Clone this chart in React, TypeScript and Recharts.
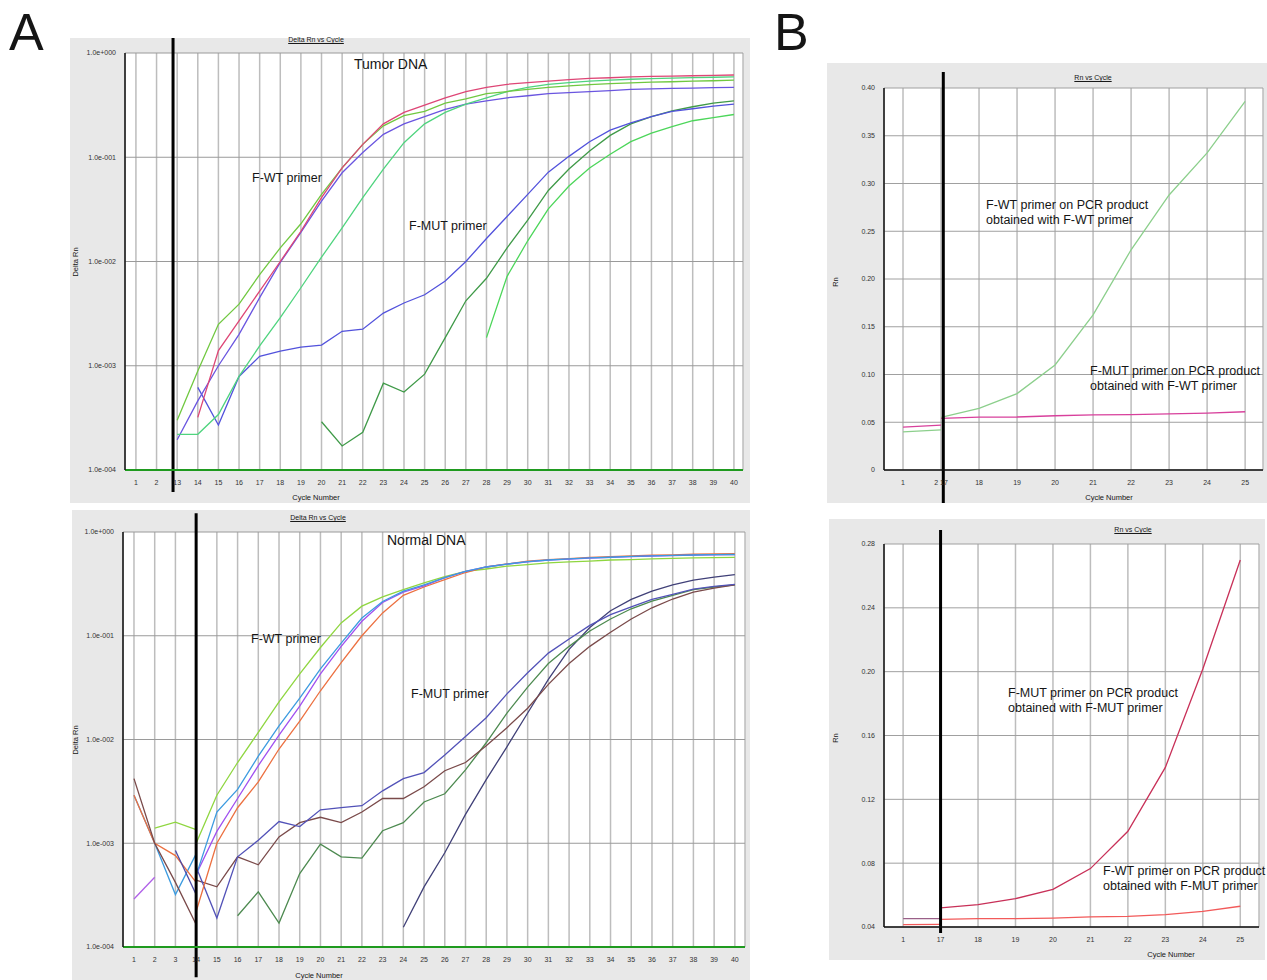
import { CartesianGrid, Line, LineChart, ReferenceLine, XAxis, YAxis } from 'recharts'

const FONT = '"Liberation Sans", Arial, sans-serif'

// ---- Panel A, tumor DNA (Delta Rn, log scale) ----
const tumorCycles = ['1', '2', '13', '14', '15', '16', '17', '18', '19', '20', '21', '22', '23', '24', '25', '26', '27', '28', '29', '30', '31', '32', '33', '34', '35', '36', '37', '38', '39', '40']

const tumorWtRed = [null, null, null, 3.2e-4, 1.4e-3, 2.7e-3, 5.2e-3, 1.0e-2, 1.95e-2, 4.1e-2, 7.9e-2, 0.133, 0.209, 0.269, 0.316, 0.372, 0.427, 0.468, 0.501, 0.519, 0.537, 0.555, 0.57, 0.579, 0.589, 0.597, 0.601, 0.605, 0.61, 0.615]
const tumorWtYellow = [null, null, 3.0e-4, 8.9e-4, 2.5e-3, 3.9e-3, 7.5e-3, 1.35e-2, 2.3e-2, 4.4e-2, 7.9e-2, 0.133, 0.2, 0.251, 0.275, 0.331, 0.363, 0.407, 0.427, 0.447, 0.468, 0.484, 0.498, 0.509, 0.518, 0.525, 0.53, 0.537, 0.542, 0.55]
const tumorWtMint = [null, null, 2.2e-4, 2.2e-4, 3.4e-4, 7.9e-4, 1.55e-3, 2.9e-3, 5.6e-3, 1.1e-2, 2.1e-2, 4.1e-2, 7.7e-2, 0.138, 0.209, 0.269, 0.324, 0.372, 0.427, 0.468, 0.5, 0.519, 0.537, 0.55, 0.56, 0.569, 0.575, 0.58, 0.585, 0.589]
const tumorWtBlue = [null, null, 1.95e-4, 4.6e-4, 1.0e-3, 2.0e-3, 4.5e-3, 9.8e-3, 1.9e-2, 3.8e-2, 7.1e-2, 0.111, 0.166, 0.209, 0.245, 0.288, 0.324, 0.347, 0.372, 0.389, 0.407, 0.417, 0.427, 0.436, 0.447, 0.452, 0.457, 0.461, 0.465, 0.468]
const tumorMutBlue = [null, null, null, 6.2e-4, 2.7e-4, 7.9e-4, 1.23e-3, 1.38e-3, 1.51e-3, 1.58e-3, 2.14e-3, 2.24e-3, 3.2e-3, 4.0e-3, 4.8e-3, 6.5e-3, 1.0e-2, 1.66e-2, 2.7e-2, 4.4e-2, 7.2e-2, 0.102, 0.141, 0.182, 0.214, 0.245, 0.275, 0.292, 0.309, 0.324]
const tumorMutDark = [null, null, null, null, null, null, null, null, null, 2.9e-4, 1.7e-4, 2.3e-4, 6.8e-4, 5.6e-4, 8.3e-4, 1.86e-3, 4.2e-3, 6.9e-3, 1.35e-2, 2.5e-2, 4.8e-2, 7.7e-2, 0.115, 0.162, 0.209, 0.245, 0.279, 0.305, 0.331, 0.347]
const tumorMutLight = [null, null, null, null, null, null, null, null, null, null, null, null, null, null, null, null, null, 1.86e-3, 7.2e-3, 1.58e-2, 3.2e-2, 5.3e-2, 7.9e-2, 0.107, 0.141, 0.17, 0.197, 0.224, 0.24, 0.257]

// ---- Panel A, normal DNA ----
const normalCycles = ['1', '2', '3', '14', '15', '16', '17', '18', '19', '20', '21', '22', '23', '24', '25', '26', '27', '28', '29', '30', '31', '32', '33', '34', '35', '36', '37', '38', '39', '40']

// baseline traces before the break line
const normalYellowPre = [null, 1.4e-3, 1.6e-3, 1.35e-3]
const normalSkyPre = [2.9e-3, 1.0e-3, 3.2e-4, 7.9e-4]
const normalBrownPre = [4.2e-3, 1.0e-3, 4.2e-4, 1.65e-4]
const normalOrangePre = [2.9e-3, 1.0e-3, 7.6e-4, 4.2e-4]
const normalVioletPre = [2.9e-4, 4.7e-4]
const normalSlatePre = [null, null, 8.5e-4, 3.2e-4]

const normalWtYellow = [null, null, null, 1.0e-3, 2.9e-3, 6.0e-3, 1.17e-2, 2.3e-2, 4.3e-2, 7.7e-2, 0.133, 0.193, 0.237, 0.279, 0.324, 0.372, 0.417, 0.44, 0.468, 0.485, 0.504, 0.515, 0.525, 0.537, 0.542, 0.55, 0.558, 0.562, 0.566, 0.57]
const normalWtSky = [null, null, null, 4.9e-4, 2.0e-3, 3.3e-3, 6.9e-3, 1.35e-2, 2.5e-2, 4.8e-2, 8.5e-2, 0.148, 0.214, 0.269, 0.309, 0.363, 0.417, 0.46, 0.49, 0.519, 0.537, 0.55, 0.562, 0.571, 0.582, 0.589, 0.594, 0.6, 0.604, 0.607]
const normalWtViolet = [null, null, null, 5.0e-4, 1.3e-3, 2.7e-3, 5.6e-3, 1.1e-2, 2.1e-2, 4.3e-2, 7.9e-2, 0.138, 0.209, 0.263, 0.302, 0.363, 0.417, 0.46, 0.49, 0.516, 0.535, 0.548, 0.56, 0.57, 0.58, 0.587, 0.592, 0.598, 0.602, 0.605]
const normalWtOrange = [null, null, null, 2.2e-4, 1.0e-3, 2.2e-3, 3.9e-3, 8.1e-3, 1.5e-2, 2.95e-2, 5.5e-2, 0.1, 0.166, 0.245, 0.295, 0.347, 0.407, 0.46, 0.492, 0.525, 0.542, 0.555, 0.57, 0.579, 0.589, 0.597, 0.601, 0.61, 0.616, 0.62]
const normalMutSlate = [null, null, null, 5.9e-4, 1.9e-4, 7.4e-4, 1.07e-3, 1.62e-3, 1.45e-3, 2.1e-3, 2.2e-3, 2.3e-3, 3.2e-3, 4.2e-3, 4.8e-3, 7.1e-3, 1.07e-2, 1.62e-2, 2.75e-2, 4.4e-2, 6.8e-2, 9.3e-2, 0.126, 0.16, 0.19, 0.224, 0.251, 0.282, 0.299, 0.313]
const normalMutBrown = [null, null, null, 4.4e-4, 3.8e-4, 7.4e-4, 6.2e-4, 1.15e-3, 1.58e-3, 1.78e-3, 1.58e-3, 2.0e-3, 2.7e-3, 2.7e-3, 3.5e-3, 5.0e-3, 6.0e-3, 8.7e-3, 1.3e-2, 2.0e-2, 3.4e-2, 5.4e-2, 7.9e-2, 0.108, 0.145, 0.186, 0.226, 0.263, 0.288, 0.309]
const normalMutGreen = [null, null, null, null, null, 2.0e-4, 3.4e-4, 1.7e-4, 5.1e-4, 9.8e-4, 7.4e-4, 7.2e-4, 1.32e-3, 1.58e-3, 2.5e-3, 3.0e-3, 5.1e-3, 9.3e-3, 1.8e-2, 3.2e-2, 5.4e-2, 7.9e-2, 0.111, 0.145, 0.182, 0.216, 0.245, 0.279, 0.295, 0.309]
const normalMutNavy = [null, null, null, null, null, null, null, null, null, null, null, null, null, 1.55e-4, 3.8e-4, 8.1e-4, 1.9e-3, 4.1e-3, 8.5e-3, 1.8e-2, 3.8e-2, 7.4e-2, 0.12, 0.174, 0.224, 0.269, 0.309, 0.343, 0.367, 0.389]

// ---- Panel B, Rn on PCR product from F-WT primer ----
const wtProductCycles = ['1', '2 17', '18', '19', '20', '21', '22', '23', '24', '25']
const wtProductGreenPre = [0.04, 0.042]
const wtProductPinkPre = [0.045, 0.047]
const wtProductGreen = [null, 0.055, 0.0646, 0.08, 0.11, 0.1625, 0.2306, 0.288, 0.332, 0.386]
const wtProductPink = [null, 0.054, 0.0553, 0.0555, 0.0568, 0.0578, 0.058, 0.0588, 0.0595, 0.061]

// ---- Panel B, Rn on PCR product from F-MUT primer ----
const mutProductCycles = ['1', '17', '18', '19', '20', '21', '22', '23', '24', '25']
const mutProductMutPre = [0.0452, 0.0452]
const mutProductWtPre = [0.0415, 0.0417]
const mutProductMut = [null, 0.052, 0.054, 0.0578, 0.0636, 0.0766, 0.1, 0.14, 0.2017, 0.27]
const mutProductWt = [null, 0.0448, 0.0452, 0.0452, 0.0456, 0.0463, 0.0467, 0.0477, 0.0498, 0.053]

const decades = [1e-4, 1e-3, 1e-2, 1e-1, 1]
const rnTicksWt = [0, 0.05, 0.1, 0.15, 0.2, 0.25, 0.3, 0.35, 0.4]
const rnTicksMut = [0.04, 0.08, 0.12, 0.16, 0.2, 0.24, 0.28]

type Series = { key: string; values: (number | null)[]; color: string; width?: number }

function buildRows(cycles: string[], series: Series[]) {
  return cycles.map((cycle, pos) => {
    const row: Record<string, number | string | null> = { pos, cycle }
    series.forEach((s) => {
      row[s.key] = s.values[pos] ?? null
    })
    return row
  })
}

const tumorSeries: Series[] = [
  { key: 'mutLight', values: tumorMutLight, color: '#4cd65a' },
  { key: 'mutDark', values: tumorMutDark, color: '#3f9a48' },
  { key: 'mutBlue', values: tumorMutBlue, color: '#5252dc' },
  { key: 'wtBlue', values: tumorWtBlue, color: '#6a55e0' },
  { key: 'wtMint', values: tumorWtMint, color: '#4fd47e' },
  { key: 'wtYellow', values: tumorWtYellow, color: '#70c840' },
  { key: 'wtRed', values: tumorWtRed, color: '#de4676' },
]

const normalSeries: Series[] = [
  { key: 'violetPre', values: normalVioletPre, color: '#b060e8' },
  { key: 'yellowPre', values: normalYellowPre, color: '#8fd640' },
  { key: 'skyPre', values: normalSkyPre, color: '#3c9be0' },
  { key: 'orangePre', values: normalOrangePre, color: '#ec7040' },
  { key: 'brownPre', values: normalBrownPre, color: '#7a4a4a' },
  { key: 'slatePre', values: normalSlatePre, color: '#4a4aa8' },
  { key: 'mutNavy', values: normalMutNavy, color: '#404078' },
  { key: 'mutGreen', values: normalMutGreen, color: '#4d8a50' },
  { key: 'mutBrown', values: normalMutBrown, color: '#7a4a4a' },
  { key: 'mutSlate', values: normalMutSlate, color: '#5252b8' },
  { key: 'wtYellow', values: normalWtYellow, color: '#8fd640' },
  { key: 'wtOrange', values: normalWtOrange, color: '#ec7040' },
  { key: 'wtViolet', values: normalWtViolet, color: '#a050f0' },
  { key: 'wtSky', values: normalWtSky, color: '#3c9be0' },
]

const wtProductSeries: Series[] = [
  { key: 'greenPre', values: wtProductGreenPre, color: '#8ccf8c' },
  { key: 'pinkPre', values: wtProductPinkPre, color: '#d8409c' },
  { key: 'green', values: wtProductGreen, color: '#8ccf8c' },
  { key: 'pink', values: wtProductPink, color: '#d8409c' },
]

const mutProductSeries: Series[] = [
  { key: 'wtPre', values: mutProductWtPre, color: '#f25a5a' },
  { key: 'mutPre', values: mutProductMutPre, color: '#9a6088' },
  { key: 'wt', values: mutProductWt, color: '#f25a5a' },
  { key: 'mut', values: mutProductMut, color: '#c83058' },
]

const sci = (v: number) => {
  const e = Math.round(Math.log10(v))
  return `1.0e${e < 0 ? '-' : '+'}${String(Math.abs(e)).padStart(3, '0')}`
}

const tickStyle = { fontSize: 7, fill: '#333', fontFamily: FONT }

type ChartProps = {
  cycles: string[]
  series: Series[]
  width: number
  height: number
  top: number
  right: number
  yWidth: number
  xDomain: [number, number]
  breakPos: number
  breakSpan: [number, number]
}

function DeltaRnChart({ cycles, series, width, height, top, right, yWidth, xDomain, breakPos, breakSpan }: ChartProps) {
  const rows = buildRows(cycles, series)
  return (
    <LineChart width={width} height={height} data={rows} margin={{ top, right, bottom: 0, left: 0 }}>
      <CartesianGrid horizontal={false} stroke="#bdbdbd" strokeWidth={1.5} fill="#fff" />
      <CartesianGrid vertical={false} stroke="#9a9a9a" />
      <XAxis
        type="number"
        dataKey="pos"
        domain={xDomain}
        allowDataOverflow
        ticks={cycles.map((_, i) => i)}
        interval={0}
        tickFormatter={(i: number) => cycles[i]}
        tick={tickStyle}
        tickLine={false}
        tickSize={6}
        tickMargin={4}
        height={33}
        axisLine={{ stroke: '#1f9a1f', strokeWidth: 2 }}
      />
      <XAxis xAxisId="frame" orientation="top" type="number" domain={xDomain} tick={false} tickLine={false} height={0} axisLine={{ stroke: '#8c8c8c', strokeWidth: 1.5 }} />
      <YAxis
        type="number"
        scale="log"
        domain={[1e-4, 1]}
        allowDataOverflow
        ticks={decades}
        interval={0}
        tickFormatter={sci}
        tick={tickStyle}
        tickLine={false}
        tickSize={6}
        tickMargin={3}
        width={yWidth}
        axisLine={{ stroke: '#111', strokeWidth: 1.5 }}
      />
      <YAxis yAxisId="frame" orientation="right" type="number" domain={[0, 1]} tick={false} tickLine={false} width={0} axisLine={{ stroke: '#8c8c8c', strokeWidth: 1.5 }} />
      {series.map((s) => (
        <Line key={s.key} type="linear" dataKey={s.key} stroke={s.color} strokeWidth={1.3} dot={false} isAnimationActive={false} />
      ))}
      <ReferenceLine
        segment={[{ x: breakPos, y: breakSpan[0] }, { x: breakPos, y: breakSpan[1] }]}
        stroke="#000"
        strokeWidth={3}
        ifOverflow="visible"
      />
    </LineChart>
  )
}

function RnChart({ cycles, series, width, height, top, right, yWidth, xDomain, breakPos, breakSpan, yDomain, yTicks }: ChartProps & { yDomain: [number, number]; yTicks: number[] }) {
  const rows = buildRows(cycles, series)
  return (
    <LineChart width={width} height={height} data={rows} margin={{ top, right, bottom: 0, left: 0 }}>
      <CartesianGrid horizontal={false} stroke="#bdbdbd" strokeWidth={1.5} fill="#fff" />
      <CartesianGrid vertical={false} stroke="#a0a0a0" />
      <XAxis
        type="number"
        dataKey="pos"
        domain={xDomain}
        allowDataOverflow
        ticks={cycles.map((_, i) => i)}
        interval={0}
        tickFormatter={(i: number) => cycles[i]}
        tick={tickStyle}
        tickLine={false}
        tickSize={6}
        tickMargin={4}
        height={33}
        axisLine={{ stroke: '#111', strokeWidth: 1.5 }}
      />
      <XAxis xAxisId="frame" orientation="top" type="number" domain={xDomain} tick={false} tickLine={false} height={0} axisLine={{ stroke: '#666', strokeWidth: 1.5 }} />
      <YAxis
        type="number"
        domain={yDomain}
        allowDataOverflow
        ticks={yTicks}
        interval={0}
        tickFormatter={(v: number) => (v === 0 ? '0' : v.toFixed(2))}
        tick={tickStyle}
        tickLine={false}
        tickSize={6}
        tickMargin={3}
        width={yWidth}
        axisLine={{ stroke: '#111', strokeWidth: 1.5 }}
      />
      <YAxis yAxisId="frame" orientation="right" type="number" domain={[0, 1]} tick={false} tickLine={false} width={0} axisLine={{ stroke: '#666', strokeWidth: 1.5 }} />
      {series.map((s) => (
        <Line key={s.key} type="linear" dataKey={s.key} stroke={s.color} strokeWidth={1.3} dot={false} isAnimationActive={false} />
      ))}
      <ReferenceLine
        segment={[{ x: breakPos, y: breakSpan[0] }, { x: breakPos, y: breakSpan[1] }]}
        stroke="#000"
        strokeWidth={3}
        ifOverflow="visible"
      />
    </LineChart>
  )
}

function Caption({ x, y, size = 12.5, middle = false, rotate = false, underline = false, children }: {
  x: number
  y: number
  size?: number
  middle?: boolean
  rotate?: boolean
  underline?: boolean
  children: React.ReactNode
}) {
  return (
    <div
      style={{
        position: 'absolute',
        left: x,
        top: y,
        transform: `translate(${middle ? '-50%' : '0'}, -50%)${rotate ? ' rotate(-90deg)' : ''}`,
        fontSize: size,
        lineHeight: size > 10 ? '15px' : 1.15,
        whiteSpace: 'nowrap',
        color: '#151515',
        textDecoration: underline ? 'underline' : 'none',
      }}
    >
      {children}
    </div>
  )
}

const panelBg = '#e8e8e8'

export default function App() {
  return (
    <div style={{ position: 'absolute', left: 0, top: 0, width: 1267, height: 980, background: '#fff', fontFamily: FONT, overflow: 'hidden' }}>
      <div style={{ position: 'absolute', left: 70, top: 38, width: 680, height: 465, background: panelBg }}>
        <DeltaRnChart
          cycles={tumorCycles}
          series={tumorSeries}
          width={680}
          height={465}
          top={15}
          right={7}
          yWidth={55}
          xDomain={[-0.53, 29.44]}
          breakPos={1.8}
          breakSpan={[1.42, 6.15e-5]}
        />
      </div>
      <div style={{ position: 'absolute', left: 72, top: 510, width: 678, height: 470, background: panelBg }}>
        <DeltaRnChart
          cycles={normalCycles}
          series={normalSeries}
          width={678}
          height={470}
          top={22}
          right={5}
          yWidth={51}
          xDomain={[-0.53, 29.49]}
          breakPos={3}
          breakSpan={[1.52, 5.1e-5]}
        />
      </div>
      <div style={{ position: 'absolute', left: 827, top: 63, width: 440, height: 440, background: panelBg }}>
        <RnChart
          cycles={wtProductCycles}
          series={wtProductSeries}
          width={440}
          height={440}
          top={25}
          right={4}
          yWidth={57}
          xDomain={[-0.5, 9.47]}
          breakPos={1.06}
          breakSpan={[0.4168, -0.0346]}
          yDomain={[0, 0.4]}
          yTicks={rnTicksWt}
        />
      </div>
      <div style={{ position: 'absolute', left: 829, top: 519, width: 436, height: 441, background: panelBg }}>
        <RnChart
          cycles={mutProductCycles}
          series={mutProductSeries}
          width={436}
          height={441}
          top={25}
          right={6}
          yWidth={55}
          xDomain={[-0.51, 9.5]}
          breakPos={1}
          breakSpan={[0.2888, 0.0362]}
          yDomain={[0.04, 0.28]}
          yTicks={rnTicksMut}
        />
      </div>

      <Caption x={9} y={31.5} size={52}>A</Caption>
      <Caption x={774} y={31.5} size={52}>B</Caption>

      <Caption x={316} y={40} size={7} middle underline>Delta Rn vs Cycle</Caption>
      <Caption x={354} y={64} size={14}>Tumor DNA</Caption>
      <Caption x={252} y={178}>F-WT primer</Caption>
      <Caption x={409} y={226}>F-MUT primer</Caption>
      <Caption x={76} y={262} size={7.5} middle rotate>Delta Rn</Caption>
      <Caption x={316} y={498} size={7.5} middle>Cycle Number</Caption>

      <Caption x={318} y={518} size={7} middle underline>Delta Rn vs Cycle</Caption>
      <Caption x={387} y={540} size={14}>Normal DNA</Caption>
      <Caption x={251} y={639}>F-WT primer</Caption>
      <Caption x={411} y={694}>F-MUT primer</Caption>
      <Caption x={76} y={740} size={7.5} middle rotate>Delta Rn</Caption>
      <Caption x={319} y={976} size={7.5} middle>Cycle Number</Caption>

      <Caption x={1093} y={78} size={7} middle underline>Rn vs Cycle</Caption>
      <Caption x={986} y={212.5}>F-WT primer on PCR product<br />obtained with F-WT primer</Caption>
      <Caption x={1090} y={379}>F-MUT primer on PCR product<br />obtained with F-WT primer</Caption>
      <Caption x={836} y={282} size={7.5} middle rotate>Rn</Caption>
      <Caption x={1109} y={498} size={7.5} middle>Cycle Number</Caption>

      <Caption x={1133} y={530} size={7} middle underline>Rn vs Cycle</Caption>
      <Caption x={1008} y={701}>F-MUT primer on PCR product<br />obtained with F-MUT primer</Caption>
      <Caption x={1103} y={879}>F-WT primer on PCR product<br />obtained with F-MUT primer</Caption>
      <Caption x={836} y={738} size={7.5} middle rotate>Rn</Caption>
      <Caption x={1171} y={955} size={7.5} middle>Cycle Number</Caption>
    </div>
  )
}
